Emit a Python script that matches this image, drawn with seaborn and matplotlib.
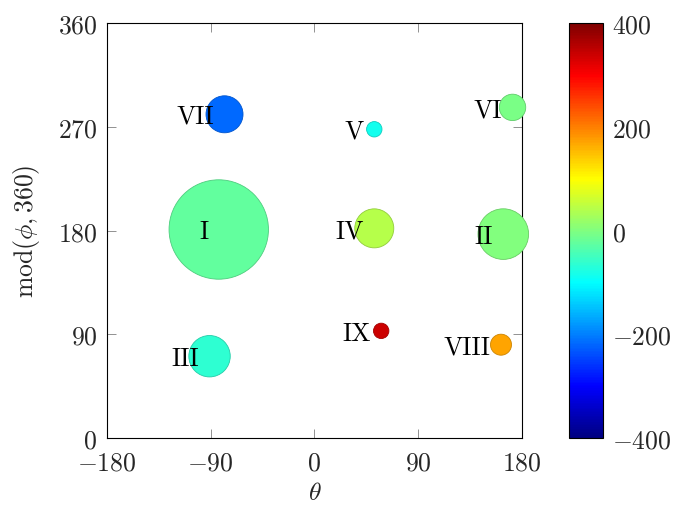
import numpy as np
import pandas as pd
import matplotlib
matplotlib.use("Agg")
import matplotlib.pyplot as plt
from matplotlib.colors import LinearSegmentedColormap, Normalize
from matplotlib.cm import ScalarMappable
import seaborn as sns

# --- data -------------------------------------------------------------
labels = ["I", "II", "III", "IV", "V", "VI", "VII", "VIII", "IX"]
theta = [-83, 164, -91, 52, 52, 172, -78, 162, 58]
phi_mod = [181, 177, 71, 182, 268, 287, 281, 81, 93]
value = [-24, 0, -63, 42, -85, -4, -218, 170, 340]
magnitude = [49.7, 25.3, 20.7, 19.5, 7.7, 13.2, 18.5, 10.5, 7.7]

x_ticks = [-180, -90, 0, 90, 180]
y_ticks = [0, 90, 180, 270, 360]
cbar_ticks = [-400, -200, 0, 200, 400]
value_range = (-400, 400)

# --- style ------------------------------------------------------------
sns.set_style("ticks")
plt.rcParams.update({
    "font.family": "serif",
    "font.serif": ["cmr10"],
    "mathtext.fontset": "cm",
    "axes.formatter.use_mathtext": True,
    "axes.unicode_minus": True,
    "font.size": 18.5,
})

# pgfplots-style jet colormap
jet = LinearSegmentedColormap.from_list(
    "pgfjet",
    [(0.0, (0, 0, 0.5)), (1 / 8, (0, 0, 1)), (3 / 8, (0, 1, 1)),
     (5 / 8, (1, 1, 0)), (7 / 8, (1, 0, 0)), (1.0, (0.5, 0, 0))],
)
norm = Normalize(*value_range)

df = pd.DataFrame({
    "theta": theta,
    "phi": phi_mod,
    "value": value,
    "area": np.square(magnitude),
    "label": labels,
})

fig = plt.figure(figsize=(6.76, 5.06), dpi=100)
ax = fig.add_axes([0.1583, 0.1324, 0.6135, 0.8196])
cax = fig.add_axes([0.8422, 0.1318, 0.0494, 0.8202])

# bubble area proportional to magnitude**2 (marker size in pt^2)
pt_scale = (2 * 0.72) ** 2
max_area = df["area"].max()
sns.scatterplot(
    data=df, x="theta", y="phi", hue="value", size="area",
    palette=jet, hue_norm=norm,
    sizes=(0, pt_scale * max_area), size_norm=(0, max_area),
    legend=False, ax=ax, linewidth=0.6, zorder=3, clip_on=False,
)
coll = ax.collections[0]
fc = coll.get_facecolors()
ec = fc.copy()
ec[:, :3] *= 0.8
coll.set_edgecolors(ec)

for _, row in df.iterrows():
    ax.annotate(row["label"], (row["theta"], row["phi"]),
                xytext=(-7.3, 0.5), textcoords="offset points",
                ha="right", va="center_baseline", fontsize=18.5,
                color="black", zorder=5)

ax.set_xlim(-180, 180)
ax.set_ylim(0, 360)
ax.set_xticks(x_ticks)
ax.set_yticks(y_ticks)
ax.set_xlabel(r"$\theta$", labelpad=4)
ax.set_ylabel(r"$\mathrm{mod}(\phi, 360)$", labelpad=11)
ax.tick_params(direction="in", length=6.5, width=0.6, color="0.5",
               top=True, right=True, pad=7)
ax.tick_params(axis="x", pad=9.5)
for sp in ax.spines.values():
    sp.set_visible(True)
    sp.set_linewidth(0.8)
    sp.set_color("black")

cb = fig.colorbar(ScalarMappable(norm=norm, cmap=jet), cax=cax)
cb.set_ticks(cbar_ticks)
cax.tick_params(direction="in", length=6.5, width=0.6, color="0.5",
                left=True, right=True, pad=7)
cb.outline.set_linewidth(0.8)
cb.outline.set_edgecolor("black")

fig.savefig("out.png", dpi=100)
